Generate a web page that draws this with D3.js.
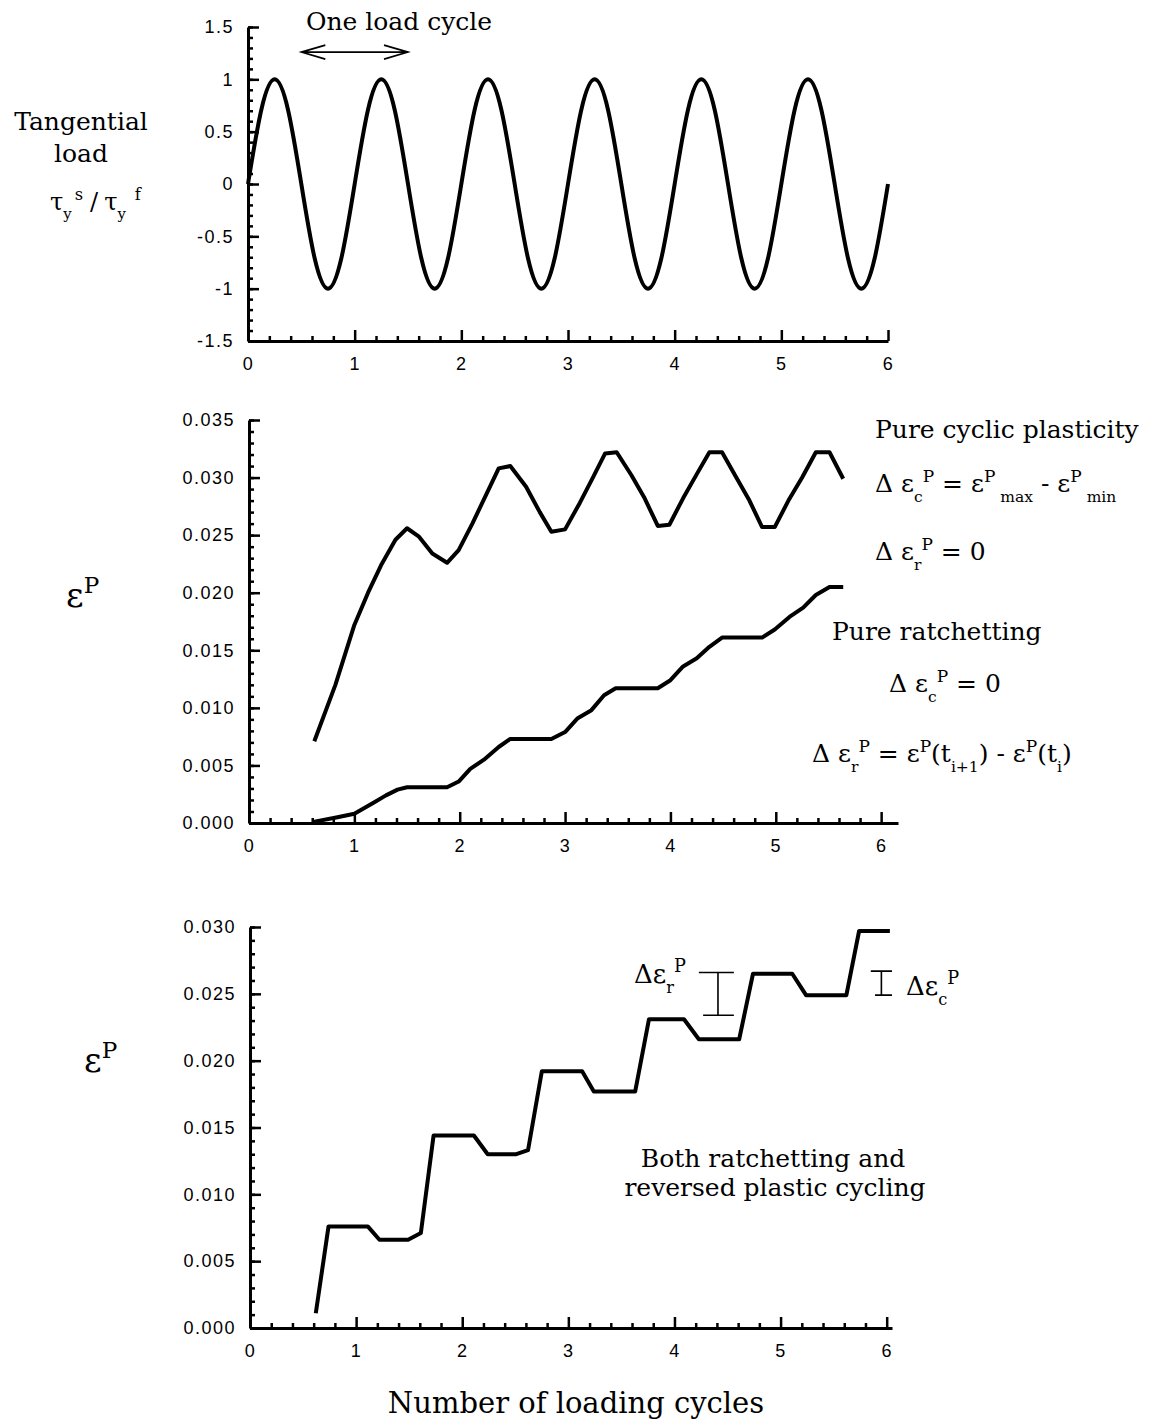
<!DOCTYPE html>
<html>
<head>
<meta charset="utf-8">
<script src="https://cdn.jsdelivr.net/npm/d3@7"></script>
<style>
body { margin: 0; background: #fff; }
svg { display: block; background: #fff; }
.tick text { font-family: "Liberation Sans", Arial, sans-serif; font-size: 18px; letter-spacing: 1.5px; fill: #000; }
.tick line { stroke: #000; stroke-width: 2.5; }
.domain { stroke: #000; stroke-width: 3; }
.lbl { font-family: "DejaVu Serif", serif; fill: #000; }
</style>
</head>
<body>
<svg width="1151" height="1427"></svg>
<script>

// tangential load (tau_s / tau_f) read every 1/8 cycle
var loadCurve = [
  [0,0],[0.125,0.71],[0.25,1],[0.375,0.71],[0.5,0],[0.625,-0.71],[0.75,-1],[0.875,-0.71],
  [1,0],[1.125,0.71],[1.25,1],[1.375,0.71],[1.5,0],[1.625,-0.71],[1.75,-1],[1.875,-0.71],
  [2,0],[2.125,0.71],[2.25,1],[2.375,0.71],[2.5,0],[2.625,-0.71],[2.75,-1],[2.875,-0.71],
  [3,0],[3.125,0.71],[3.25,1],[3.375,0.71],[3.5,0],[3.625,-0.71],[3.75,-1],[3.875,-0.71],
  [4,0],[4.125,0.71],[4.25,1],[4.375,0.71],[4.5,0],[4.625,-0.71],[4.75,-1],[4.875,-0.71],
  [5,0],[5.125,0.71],[5.25,1],[5.375,0.71],[5.5,0],[5.625,-0.71],[5.75,-1],[5.875,-0.71],
  [6,0]
];

// pure cyclic plasticity
var cyclicCurve = [
  [0.62,0.0071],[0.82,0.0120],[1.0,0.0172],[1.13,0.0200],[1.26,0.0225],[1.39,0.0246],
  [1.50,0.0256],[1.61,0.0249],[1.74,0.0234],[1.88,0.0226],[1.99,0.0237],[2.12,0.0260],
  [2.25,0.0285],[2.37,0.0308],[2.48,0.0310],[2.63,0.0292],[2.76,0.0270],[2.87,0.0253],
  [3.0,0.0255],[3.14,0.0278],[3.27,0.0301],[3.38,0.0321],[3.49,0.0322],[3.63,0.0302],
  [3.75,0.0283],[3.88,0.0258],[3.99,0.0259],[4.12,0.0282],[4.25,0.0303],[4.37,0.0322],
  [4.49,0.0322],[4.62,0.0301],[4.75,0.0280],[4.87,0.0257],[4.99,0.0257],[5.12,0.0280],
  [5.25,0.0300],[5.38,0.0322],[5.51,0.0322],[5.64,0.0299]
];

// pure ratchetting
var ratchetCurve = [
  [0.61,0.0001],[0.84,0.0005],[1.0,0.0008],[1.19,0.0018],[1.30,0.0024],[1.41,0.0029],
  [1.50,0.0031],[1.88,0.0031],[1.99,0.0036],[2.10,0.0047],[2.23,0.0055],[2.37,0.0066],
  [2.48,0.0073],[2.87,0.0073],[3.0,0.0079],[3.12,0.0091],[3.25,0.0098],[3.37,0.0111],
  [3.48,0.0117],[3.88,0.0117],[4.0,0.0124],[4.12,0.0136],[4.25,0.0143],[4.37,0.0153],
  [4.49,0.0161],[4.87,0.0161],[4.99,0.0168],[5.13,0.0179],[5.26,0.0187],[5.38,0.0198],
  [5.51,0.0205],[5.64,0.0205]
];

// ratchetting + reversed plastic cycling
var mixedCurve = [
  [0.62,0.0011],[0.74,0.0076],[1.11,0.0076],[1.22,0.0066],[1.49,0.0066],[1.61,0.0071],
  [1.73,0.0144],[2.11,0.0144],[2.24,0.0130],[2.51,0.0130],[2.62,0.0133],[2.75,0.0192],
  [3.13,0.0192],[3.24,0.0177],[3.63,0.0177],[3.76,0.0231],[4.09,0.0231],[4.23,0.0216],
  [4.61,0.0216],[4.74,0.0265],[5.11,0.0265],[5.24,0.0249],[5.62,0.0249],[5.74,0.0297],
  [6.03,0.0297]
];

// range bars  [xLeft, xRight, xStem, yLow, yHigh]
var ratchetBar = [4.23, 4.56, 4.41, 0.0234, 0.0266];
var cyclicBar = [5.85, 6.05, 5.95, 0.0249, 0.0267];

var cycleTicks = [0,1,2,3,4,5,6];
var loadTicks = [-1.5,-1,-0.5,0,0.5,1,1.5];
var loadLabels = ["-1.5","-1","-0.5","0","0.5","1","1.5"];
var strainTicksA = [0,0.005,0.010,0.015,0.020,0.025,0.030,0.035];
var strainTicksB = [0,0.005,0.010,0.015,0.020,0.025,0.030];

var svg = d3.select("svg");

var panels = [
  {left:248, right:888, xMax:6,    bottom:341,  top:27,  yDom:[-1.5,1.5], yTicks:loadTicks,    yMinor:0.1,
   fmt:function(d){ return loadLabels[loadTicks.indexOf(d)]; }},
  {left:249, right:898, xMax:6.16, bottom:823,  top:420, yDom:[0,0.035],  yTicks:strainTicksA, yMinor:0.001,
   fmt:d3.format(".3f")},
  {left:250, right:892, xMax:6.05, bottom:1328, top:927, yDom:[0,0.030],  yTicks:strainTicksB, yMinor:0.001,
   fmt:d3.format(".3f")}
];

panels.forEach(function(p){
  p.x = d3.scaleLinear().domain([0,p.xMax]).range([p.left,p.right]);
  p.y = d3.scaleLinear().domain(p.yDom).range([p.bottom,p.top]);

  var xMinor = d3.range(0, 6.001, 0.2).filter(function(v){ return Math.abs(v-Math.round(v))>1e-6; });
  var yMinor = d3.range(p.yDom[0], p.yDom[1]+p.yMinor/2, p.yMinor);

  var g = svg.append("g");
  // minor ticks first (no labels)
  g.append("g").attr("transform","translate(0,"+p.bottom+")")
    .call(d3.axisBottom(p.x).tickValues(xMinor).tickSize(-5).tickFormat(""))
    .select(".domain").remove();
  g.append("g").attr("transform","translate("+p.left+",0)")
    .call(d3.axisLeft(p.y).tickValues(yMinor).tickSize(-5).tickFormat(""))
    .select(".domain").remove();

  g.append("g").attr("transform","translate(0,"+p.bottom+")")
    .call(d3.axisBottom(p.x).tickValues(cycleTicks).tickFormat(d3.format("d"))
      .tickSize(-11).tickSizeOuter(0).tickPadding(16));
  g.append("g").attr("transform","translate("+p.left+",0)")
    .call(d3.axisLeft(p.y).tickValues(p.yTicks).tickFormat(p.fmt)
      .tickSize(-11).tickSizeOuter(0).tickPadding(14));
});

function drawCurve(p, data, curve) {
  svg.append("path")
    .datum(data)
    .attr("fill","none")
    .attr("stroke","#000")
    .attr("stroke-width",4)
    .attr("stroke-linejoin","round")
    .attr("d", d3.line()
      .x(function(d){ return p.x(d[0]); })
      .y(function(d){ return p.y(d[1]); })
      .curve(curve));
}

drawCurve(panels[0], loadCurve, d3.curveNatural);
drawCurve(panels[1], cyclicCurve, d3.curveLinear);
drawCurve(panels[1], ratchetCurve, d3.curveLinear);
drawCurve(panels[2], mixedCurve, d3.curveLinear);

// text with sub/superscripts: parts = [[text, 0|1(sub)|-1(sup), dx], ...]
function mathText(x, y, size, parts, anchor) {
  var t = svg.append("text").attr("class","lbl")
    .attr("x",x).attr("y",y).attr("font-size",size)
    .attr("text-anchor",anchor||"start");
  parts.forEach(function(q){
    var s = t.append("tspan").text(q[0]);
    if (q[1]===1) s.attr("y", y+size*0.38).attr("font-size", size*0.62);
    else if (q[1]===-1) s.attr("y", y-size*0.42).attr("font-size", size*0.68);
    else s.attr("y", y);
    if (q[2]) s.attr("dx", q[2]);
  });
  return t;
}

// top panel
var p0 = panels[0];
mathText(399, 30, 25, [["One load cycle"]], "middle");
var ay = p0.y(1.26), ax1 = p0.x(0.5), ax2 = p0.x(1.5);
svg.append("path")
  .attr("fill","none").attr("stroke","#000").attr("stroke-width",1.6)
  .attr("d","M"+ax1+","+ay+"H"+ax2+
    "M"+(ax1+24)+","+(ay-7)+"L"+ax1+","+ay+"L"+(ax1+24)+","+(ay+7)+
    "M"+(ax2-24)+","+(ay-7)+"L"+ax2+","+ay+"L"+(ax2-24)+","+(ay+7));

mathText(81, 130, 25, [["Tangential"]], "middle");
mathText(81, 162, 25, [["load"]], "middle");
mathText(50, 210, 24, [["τ"],["y",1],["s",-1,3],["/",0,7],["τ",0,6],["y",1],["f",-1,9]]);

// middle panel
mathText(66, 607, 34, [["ε"],["P",-1]]);
mathText(875, 438, 25, [["Pure cyclic plasticity"]]);
mathText(875, 492, 25, [["Δ ε"],["c",1],["P",-1],[" = ε"],["P",-1],[" max",1],[" - ε"],["P",-1],[" min",1]]);
mathText(875, 560, 25, [["Δ ε"],["r",1],["P",-1],[" = 0"]]);
mathText(832, 640, 25, [["Pure  ratchetting"]]);
mathText(889, 692, 25, [["Δ ε"],["c",1],["P",-1],[" = 0"]]);
mathText(812, 762, 25, [["Δ ε"],["r",1],["P",-1],[" = ε"],["P",-1],["(t"],["i+1",1],[") - ε"],["P",-1],["(t"],["i",1],[")"]]);

// bottom panel
var p2 = panels[2];
mathText(84, 1072, 34, [["ε"],["P",-1]]);
function rangeBar(b) {
  var yl = p2.y(b[3]), yh = p2.y(b[4]);
  svg.append("path")
    .attr("fill","none").attr("stroke","#000").attr("stroke-width",1.6)
    .attr("d","M"+p2.x(b[0])+","+yh+"H"+p2.x(b[1])+
      "M"+p2.x(b[2])+","+yh+"V"+yl+
      "M"+p2.x(b[0]+0.04)+","+yl+"H"+p2.x(b[1]));
}
rangeBar(ratchetBar);
rangeBar(cyclicBar);
mathText(634, 983, 26, [["Δε"],["r",1],["P",-1]]);
mathText(906, 995, 26, [["Δε"],["c",1],["P",-1]]);
mathText(773, 1167, 25, [["Both ratchetting and"]], "middle");
mathText(775, 1196, 25, [["reversed plastic cycling"]], "middle");

mathText(576, 1413, 29, [["Number of loading cycles"]], "middle");
</script>
</body>
</html>
